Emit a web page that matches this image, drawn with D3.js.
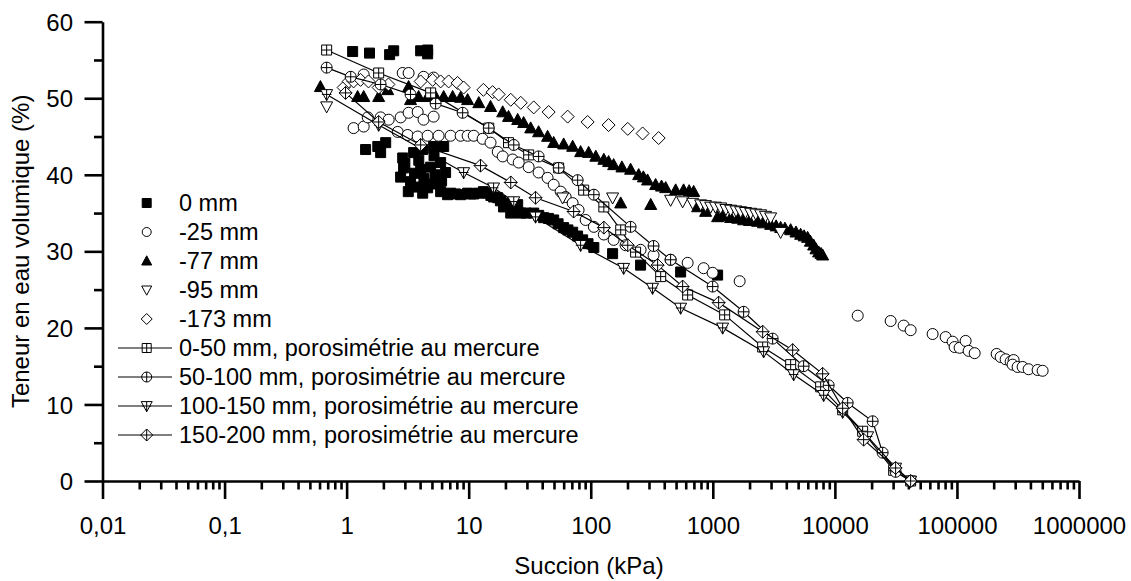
<!DOCTYPE html>
<html>
<head>
<meta charset="utf-8">
<script src="https://cdn.jsdelivr.net/npm/d3@7"></script>
<style>
  body { margin: 0; background: #fff; }
  svg { display: block; }
  text { font-family: "Liberation Sans", Arial, Helvetica, sans-serif; fill: #000; }
</style>
</head>
<body>
<svg id="chart" width="1131" height="581"></svg>
<script>
// ---- axis ticks ----
const xTickValues = [0.01, 0.1, 1, 10, 100, 1000, 10000, 100000, 1000000];
const xTickLabels = ["0,01", "0,1", "1", "10", "100", "1000", "10000", "100000", "1000000"];
const yTickValues = [0, 10, 20, 30, 40, 50, 60];
const yTickLabels = ["0", "10", "20", "30", "40", "50", "60"];

// ---- measured series: [suction kPa, volumetric water content %] ----
const depth0 = [
  [1.12,56.1],[1.54,55.9],[2.25,55.7],[2.43,56.2],[4.04,56.2],[4.61,56.3],[4.61,55.8],
  [1.43,43.3],[1.80,43.7],[1.90,42.9],[2.09,44.2],[2.88,42.2],[2.93,40.9],[2.77,39.7],[3.34,39.1],
  [3.54,42.9],[3.82,38.4],[4.04,40.7],[4.19,43.3],[4.61,38.3],[4.88,41.0],[5.16,43.7],[5.57,39.0],
  [5.89,41.6],[5.89,37.8],[6.24,43.7],[6.47,40.3],[3.0,41.5],[3.6,40.2],[4.3,39.5],[5.0,38.8],
  [5.3,40.0],[3.2,37.8],[4.2,37.6],[5.2,42.5],[6.0,39.2],[3.9,41.9],
  [6.72,37.4],[7.11,37.6],[7.8,37.5],[8.59,37.4],[9.80,37.6],[10.4,37.5],[11.0,37.5],[12.0,37.6],
  [13.2,37.8],[14.3,37.6],[15.2,37.3],[16.0,37.1],[17.3,37.0],[18.2,36.6],[19.3,35.8],[20.8,36.3],
  [22.1,35.0],[23.5,35.5],[25.2,36.1],[26.7,35.0],[29.5,35.0],[34.1,35.0],[37.5,34.7],[41.1,34.4],
  [45,34.3],[49.7,34.1],[54,33.6],[60.0,33.1],[65,32.8],[71.1,32.5],[78,32.0],[85.8,31.5],[95,31.0],
  [106,30.5],[151,29.7],[256,28.2],[545,27.3],[1095,26.9]
];
const depth25 = [
  [1.38,53.1],[2.88,53.3],[3.22,53.3],[4.27,52.8],[5.16,52.7],
  [1.14,46.1],[1.38,46.3],[1.49,47.5],[1.90,47.5],[2.21,47.2],[2.77,47.5],[3.22,48.1],[3.82,48.2],
  [4.27,47.2],[5.16,47.6],[2.62,45.6],[3.16,45.2],[3.82,45.0],[4.61,45.1],[5.67,45.1],[7.11,45.1],
  [8.59,45.1],[9.80,45.1],[11.0,45.1],[13.0,44.7],[15.1,44.2],[17.3,43.0],[19.0,42.4],[22.9,42.0],
  [25.7,41.6],[31.0,41.0],[37.4,40.3],[44.3,39.6],[49.7,38.7],[56.7,37.8],[62.3,37.1],[71.1,36.3],
  [79.5,35.4],[90.8,34.1],[106,33.2],[128,32.2],[154,31.5],[193,30.8],[256,30.2],[327,29.5],
  [451,28.9],[622,28.5],[841,27.8],[997,27.2],[1659,26.1],
  [15380,21.6],[28640,20.9],[36600,20.3],[41760,19.7],[63200,19.2],[80800,18.8],[92200,18.2],
  [95700,17.5],[105200,17.4],[117800,18.3],[124700,17.0],[139700,16.7],[211500,16.6],[228200,16.2],
  [250700,15.9],[275400,15.6],[291300,15.8],[285800,15.2],[314000,14.9],[345100,14.9],[386500,14.6],
  [458000,14.5],[503500,14.4]
];
const depth77 = [
  [0.61,51.5],[1.23,50.2],[1.38,50.2],[1.83,50.2],[2.17,51.1],[3.22,51.5],[3.34,49.8],[3.89,50.2],
  [4.61,50.2],[5.36,50.2],[6.24,50.2],[7.39,50.2],[8.59,50.1],[9.80,49.8],[12.1,49.4],[15.1,48.9],
  [19.0,48.2],[21.2,47.6],[25.2,47.2],[28.2,46.8],[32.2,46.1],[37.4,45.6],[44.3,45.0],[49.7,44.2],
  [60,44.0],[71.1,43.7],[82.6,43.0],[96.1,42.9],[110,42.4],[128,42.0],[140,41.7],[154,41.3],
  [180,41.0],[212,40.7],[247,40.0],[270,39.7],[292,39.3],[340,38.7],[380,38.5],[411,38.3],
  [496,38.0],[576,38.0],[640,37.9],[697,37.8],[751,35.8],[873,35.2],[1095,34.5],[1200,34.6],
  [1400,34.4],[1600,34.3],[1788,34.1],[2000,34.0],[2329,33.9],[2600,33.7],[2977,33.5],[3300,33.3],
  [3594,33.1],[3900,33.0],[4343,32.8],[4800,32.5],[5241,32.2],[5600,32.0],[5980,31.8],[6300,31.3],
  [6696,30.8],[7000,30.3],[7360,29.9],[7700,29.7],[7939,29.5],[176,36.3],[310,36.1]
];
const depth95 = [
  [0.686,48.9],[58.8,37.0],[151,37.0],[451,36.7],[566,36.5],[684,36.3],[795,36.1],[870,36.0],
  [960,35.8],[1050,35.8],[1159,35.7],[1280,35.5],[1400,35.4],[1550,35.3],[1690,35.2],[1850,35.1],
  [2042,35.0],[2250,34.9],[2465,34.8],[2700,34.6],[2977,34.4],[3594,32.5]
];
const depth173 = [
  [0.945,51.4],[1.04,52.2],[1.14,52.2],[1.30,52.4],[1.51,52.2],[1.83,51.4],[2.2,51.8],[4.04,52.2],
  [5.07,52.4],[5.89,52.2],[6.85,52.2],[8.11,52.0],[9.09,51.4],[13.2,51.1],[15.7,50.8],[17.6,50.5],
  [22.1,49.8],[26.7,49.4],[34.1,48.8],[45.2,48.2],[64.7,47.6],[94.3,46.9],[140,46.5],[201,46.0],
  [266,45.4],[360,44.8]
];

// ---- mercury intrusion porosimetry curves ----
const mip0_50 = [
  [0.686,56.3],[1.83,53.3],[4.88,50.7],[14.6,46.1],[21.2,44.2],[31.0,42.6],[54.6,40.9],[87.5,38.0],
  [128,35.8],[176,32.8],[233,29.9],[374,26.7],[622,24.3],[1250,21.7],[2561,17.5],[4343,15.2],
  [7646,12.3],[11580,9.3],[16880,6.5],[30300,1.4],[41760,0]
];
const mip50_100 = [
  [0.686,54.0],[1.08,52.8],[1.90,51.8],[3.34,50.5],[5.36,49.3],[8.92,48.1],[14.6,46.1],[23.4,43.9],
  [37.4,42.4],[54.6,40.9],[78.1,39.3],[106,37.4],[212,33.2],[327,30.7],[451,28.9],[997,25.4],
  [1788,22.1],[3091,18.6],[5546,15.0],[8892,12.5],[12730,10.2],[20400,7.8],[24620,3.7],[31460,1.2],
  [41760,0]
];
const mip100_150 = [
  [0.686,50.5],[1.83,46.5],[9.09,40.3],[16.0,38.3],[23.4,36.5],[35.3,34.5],[82.6,30.8],[186,27.8],
  [321,25.2],[545,22.6],[1204,20.0],[2608,16.9],[4594,13.9],[8095,11.2],[11580,9.0],[18550,5.8],
  [31460,1.7],[41760,0]
];
const mip150_200 = [
  [0.98,50.7],[1.83,46.9],[4.04,43.9],[12.5,41.2],[22.1,39.0],[35.3,37.0],[72.4,35.2],[128,33.1],
  [201,30.8],[353,28.2],[566,25.4],[1116,23.3],[2561,19.5],[4510,17.1],[7939,14.0],[11580,9.5],
  [17200,5.4],[31460,1.7],[41760,0]
];

const seriesLabels = [
  "0 mm", "-25 mm", "-77 mm", "-95 mm", "-173 mm",
  "0-50 mm, porosimétrie au mercure",
  "50-100 mm, porosimétrie au mercure",
  "100-150 mm, porosimétrie au mercure",
  "150-200 mm, porosimétrie au mercure"
];

// ---- marker shapes ----
function markerPath(kind, s) {
  const h = s / 2;
  const circle = r => `M${r},0A${r},${r} 0 1,1 ${-r},0A${r},${r} 0 1,1 ${r},0Z`;
  const square = `M${-h},${-h}H${h}V${h}H${-h}Z`;
  const triUp = `M0,${-0.52 * s}L${h},${0.4 * s}H${-h}Z`;
  const triDown = `M0,${0.52 * s}L${h},${-0.4 * s}H${-h}Z`;
  const diamond = `M0,${-h}L${h},0L0,${h}L${-h},0Z`;
  const plus = `M${-h},0H${h}M0,${-h}V${h}`;
  switch (kind) {
    case "square": return square;
    case "circle": return circle(h);
    case "triUp": return triUp;
    case "triDown": return triDown;
    case "diamond": return diamond;
    case "squarePlus": return square + plus;
    case "circlePlus": return circle(h) + plus;
    case "triDownPlus": return triDown + `M0,${-0.4 * s}V${0.52 * s}M${-0.8 * h},0H${0.8 * h}`;
    case "diamondPlus": return diamond + plus;
  }
}

const scatter = [
  { data: depth0,   kind: "square",  size: 10, fill: "#000", legendSize: 9 },
  { data: depth25,  kind: "circle",  size: 11, fill: "#fff", legendSize: 9 },
  { data: depth77,  kind: "triUp",   size: 12, fill: "#000", legendSize: 10 },
  { data: depth95,  kind: "triDown", size: 12, fill: "#fff", legendSize: 10 },
  { data: depth173, kind: "diamond", size: 13, fill: "#fff", legendSize: 11 }
];
const curves = [
  { data: mip0_50,    kind: "squarePlus",  size: 10, legendSize: 9 },
  { data: mip50_100,  kind: "circlePlus",  size: 11, legendSize: 10 },
  { data: mip100_150, kind: "triDownPlus", size: 12, legendSize: 11 },
  { data: mip150_200, kind: "diamondPlus", size: 13, legendSize: 12 }
];

// ---- layout ----
const svg = d3.select("#chart");
const x = d3.scaleLog().domain([0.01, 1e6]).range([102.5, 1079]);
const y = d3.scaleLinear().domain([0, 60]).range([481, 21.7]);
const fontSize = 24;
const legendFont = 23.5;
const axisWidth = 2.6;

// minor ticks: 2..9 within each decade, and halfway between labelled y ticks
const xMinor = [];
for (let i = 0; i < xTickValues.length - 1; i++) {
  for (let k = 2; k < 10; k++) xMinor.push(xTickValues[i] * k);
}
const yMinor = yTickValues.slice(0, -1).map(v => v + 5);

function styleAxis(g) {
  g.selectAll("path.domain").attr("stroke", "#000").attr("stroke-width", axisWidth);
  g.selectAll(".tick line").attr("stroke", "#000").attr("stroke-width", axisWidth);
  g.selectAll(".tick text").attr("font-size", fontSize).attr("font-family", null).attr("fill", "#000");
}

svg.append("g")
  .attr("transform", `translate(0,${y(0)})`)
  .call(d3.axisBottom(x).tickValues(xMinor).tickSize(8.5).tickSizeOuter(0).tickFormat(""))
  .call(styleAxis)
  .call(g => g.select(".domain").remove());

svg.append("g")
  .attr("transform", `translate(${x(0.01)},0)`)
  .call(d3.axisLeft(y).tickValues(yMinor).tickSize(8.5).tickSizeOuter(0).tickFormat(""))
  .call(styleAxis)
  .call(g => g.select(".domain").remove());

svg.append("g")
  .attr("transform", `translate(0,${y(0)})`)
  .call(d3.axisBottom(x).tickValues(xTickValues).tickSize(18).tickSizeOuter(0)
    .tickFormat((d, i) => xTickLabels[i]))
  .call(styleAxis)
  .call(g => g.selectAll(".tick text").attr("y", 53).attr("dy", 0));

svg.append("g")
  .attr("transform", `translate(${x(0.01)},0)`)
  .call(d3.axisLeft(y).tickValues(yTickValues).tickSize(18).tickSizeOuter(0)
    .tickFormat((d, i) => yTickLabels[i]))
  .call(styleAxis)
  .call(g => g.selectAll(".tick text").attr("x", -29.5).attr("dy", "0.36em"));

// axis titles
svg.append("text")
  .attr("x", 589).attr("y", 574)
  .attr("text-anchor", "middle").attr("font-size", fontSize)
  .text("Succion (kPa)");
svg.append("text")
  .attr("transform", `translate(29,${(y(0) + y(60)) / 2}) rotate(-90)`)
  .attr("text-anchor", "middle").attr("font-size", fontSize)
  .text("Teneur en eau volumique (%)");

// ---- marks ----
const plot = svg.append("g");

scatter.forEach(s => {
  plot.append("g").selectAll("path")
    .data(s.data)
    .join("path")
    .attr("transform", d => `translate(${x(d[0])},${y(d[1])})`)
    .attr("d", markerPath(s.kind, s.size))
    .attr("fill", s.fill)
    .attr("stroke", "#000")
    .attr("stroke-width", 1);
});

const line = d3.line().x(d => x(d[0])).y(d => y(d[1]));
curves.forEach(c => {
  const g = plot.append("g");
  g.append("path")
    .datum(c.data)
    .attr("d", line)
    .attr("fill", "none")
    .attr("stroke", "#000")
    .attr("stroke-width", 1.2);
  g.selectAll("path.m")
    .data(c.data)
    .join("path")
    .attr("class", "m")
    .attr("transform", d => `translate(${x(d[0])},${y(d[1])})`)
    .attr("d", markerPath(c.kind, c.size))
    .attr("fill", "#fff")
    .attr("stroke", "#000")
    .attr("stroke-width", 1);
});

// ---- legend ----
const legend = svg.append("g");
const legendTop = 203, legendStep = 29, symX = 146.7, textX = 179;
const legendItems = scatter.map(s => ({ ...s, line: false }))
  .concat(curves.map(c => ({ ...c, fill: "#fff", line: true })));

legendItems.forEach((item, i) => {
  const ly = legendTop + i * legendStep;
  if (item.line) {
    legend.append("line")
      .attr("x1", 118).attr("x2", 172).attr("y1", ly).attr("y2", ly)
      .attr("stroke", "#000").attr("stroke-width", 1.2);
  }
  legend.append("path")
    .attr("transform", `translate(${symX},${ly})`)
    .attr("d", markerPath(item.kind, item.legendSize))
    .attr("fill", item.fill)
    .attr("stroke", "#000")
    .attr("stroke-width", 1);
  legend.append("text")
    .attr("x", textX).attr("y", ly).attr("dy", "0.36em")
    .attr("font-size", legendFont)
    .text(seriesLabels[i]);
});
</script>
</body>
</html>
